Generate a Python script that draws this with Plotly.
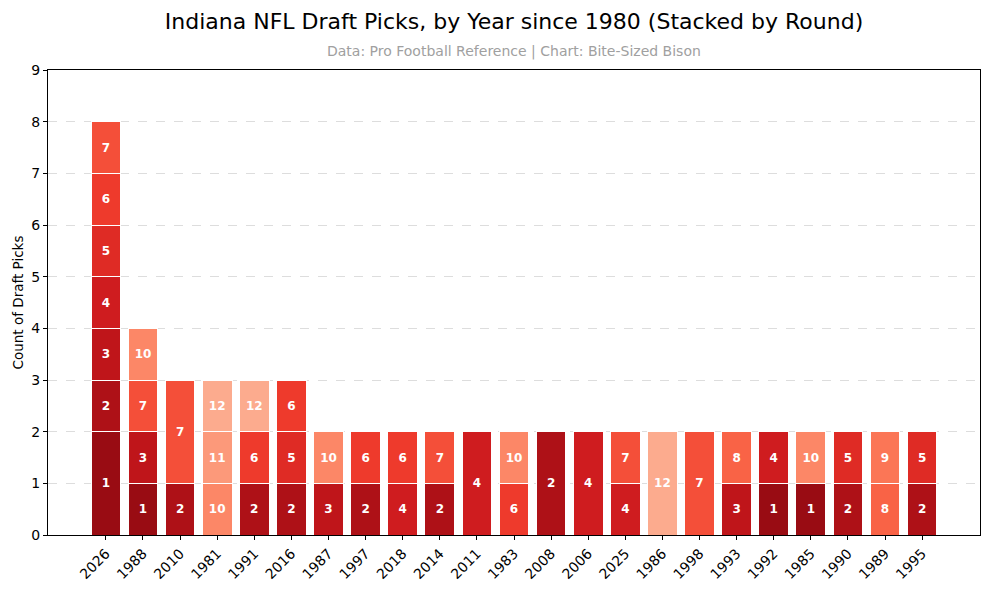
import plotly.graph_objects as go
from plotly.colors import sample_colorscale

# draft years in display order (sorted by total picks)
YEARS = ['2026', '1988', '2010', '1981', '1991', '2016', '1987', '1997', '2018', '2014', '2011',
         '1983', '2008', '2006', '2025', '1986', '1998', '1993', '1992', '1985', '1990', '1989', '1995']

# round of each pick, per year
PICKS = [
  [1, 1, 2, 3, 4, 5, 6, 7],  # 2026
  [1, 3, 7, 10],             # 1988
  [2, 7, 7],                 # 2010
  [10, 11, 12],              # 1981
  [2, 6, 12],                # 1991
  [2, 5, 6],                 # 2016
  [3, 10],                   # 1987
  [2, 6],                    # 1997
  [4, 6],                    # 2018
  [2, 7],                    # 2014
  [4, 4],                    # 2011
  [6, 10],                   # 1983
  [2, 2],                    # 2008
  [4, 4],                    # 2006
  [4, 7],                    # 2025
  [12, 12],                  # 1986
  [7, 7],                    # 1998
  [3, 8],                    # 1993
  [1, 4],                    # 1992
  [1, 10],                   # 1985
  [2, 5],                    # 1990
  [8, 9],                    # 1989
  [2, 5],                    # 1995
]

ROUNDS = list(range(1, 13))

FONT = 'DejaVu Sans'

# page has an 8px body margin, so the figure is drawn 8px smaller and offset
W, H = 981, 582

# darker red for earlier rounds
round_colors = sample_colorscale('Reds', [0.9 - (r - 1) * 0.6 / 11 for r in ROUNDS])

fig = go.Figure()
for i, r in enumerate(ROUNDS):
  counts = [p.count(r) for p in PICKS]
  yv = [c if c > 0 else None for c in counts]
  txt = [str(r) if c > 0 else '' for c in counts]
  fig.add_trace(go.Bar(
    x=YEARS,
    y=yv,
    name=f'Round {r}',
    text=txt,
    textposition='inside',
    insidetextanchor='middle',
    textangle=0,
    constraintext='none',
    textfont=dict(family=FONT, size=12, color='white', weight='bold'),
    marker=dict(color=round_colors[i], line=dict(color='white', width=1)),
    showlegend=False,
  ))

fig.update_layout(
  width=W,
  height=H,
  barmode='stack',
  bargap=0.2,
  paper_bgcolor='white',
  plot_bgcolor='white',
  font=dict(family=FONT, size=14, color='black'),
  margin=dict(l=40, r=9, t=62, b=55, autoexpand=False),
  title=dict(
    text='Indiana NFL Draft Picks, by Year since 1980 (Stacked by Round)',
    font=dict(family=FONT, size=22, color='black'),
    x=(40 + 466) / W, xanchor='center', y=1 - 13 / H, yanchor='middle',
  ),
  annotations=[dict(
    text='Data: Pro Football Reference | Chart: Bite-Sized Bison',
    xref='paper', yref='paper', x=0.5, y=1.0, yshift=19,
    xanchor='center', yanchor='middle', showarrow=False,
    font=dict(family=FONT, size=14, color='#a0a0a0'),
  )],
)

fig.update_xaxes(
  type='category',
  range=[-1.56, 23.56],
  tickangle=-45,
  ticks='outside', ticklen=4, tickcolor='black',
  showline=True, linecolor='black', linewidth=1, mirror=True,
  showgrid=False,
  automargin=False,
  tickfont=dict(family=FONT, size=14, color='black'),
)
fig.update_yaxes(
  range=[0, 9],
  dtick=1,
  ticks='outside', ticklen=4, tickcolor='black',
  showline=True, linecolor='black', linewidth=1, mirror=True,
  showgrid=True, gridcolor='#dddddd', griddash='dash', gridwidth=1,
  zeroline=False,
  automargin=False,
  title=dict(text='Count of Draft Picks', font=dict(family=FONT, size=13.5, color='black'), standoff=4),
  tickfont=dict(family=FONT, size=14, color='black'),
)

fig.write_html('out.html')
